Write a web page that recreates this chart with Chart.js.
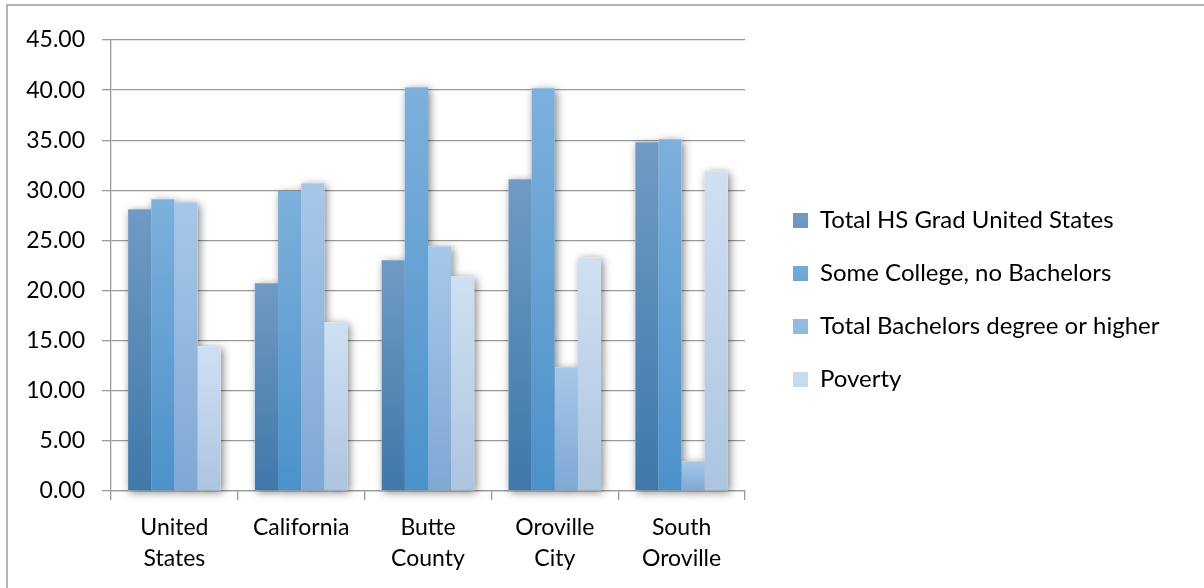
<!DOCTYPE html>
<html>
<head>
<meta charset="utf-8">
<script src="https://cdn.jsdelivr.net/npm/chart.js@4/dist/chart.umd.min.js"></script>
<style>
  html, body { margin: 0; padding: 0; background: #fff; overflow: hidden; }
  #wrap { position: relative; width: 1204px; height: 588px; }
  #frame { position: absolute; left: 6px; top: 4px; width: 1300px; height: 700px; border: 2px solid #b3b3b3; box-sizing: border-box; }
  canvas { position: absolute; left: 0; top: 0; }
</style>
</head>
<body>
<div id="wrap">
  <div id="frame"></div>
  <canvas id="myChart" width="1204" height="588"></canvas>
</div>
<script>
const places = [['United', 'States'], 'California', ['Butte', 'County'], ['Oroville', 'City'], ['South', 'Oroville']];
const seriesNames = ['Total HS Grad United States', 'Some College, no Bachelors', 'Total Bachelors degree or higher', 'Poverty'];
const hsGrad = [28.11, 20.73, 23.02, 31.10, 34.80];
const someCollege = [29.11, 29.94, 40.29, 40.19, 35.10];
const bachelors = [28.81, 30.71, 24.42, 12.35, 2.96];
const poverty = [14.44, 16.84, 21.43, 23.32, 31.90];
const yTicks = [0, 5, 10, 15, 20, 25, 30, 35, 40, 45];

const FONT = 'Lato, "Open Sans", sans-serif';

// each bar gets its own top-to-bottom gradient
function barFill(top, bottom, solid) {
  return function (c) {
    const chart = c.chart;
    if (c.type !== 'data' || !chart.chartArea || !c.parsed) return solid;
    const y = chart.scales.y;
    const yTop = y.getPixelForValue(c.parsed.y);
    const yBase = y.getPixelForValue(0);
    const g = chart.ctx.createLinearGradient(0, yTop, 0, yBase);
    g.addColorStop(0, top);
    g.addColorStop(1, bottom);
    return g;
  };
}

// soft drop shadow under all bars, drawn before the bars themselves
const barShadow = {
  id: 'barShadow',
  beforeDatasetsDraw(chart) {
    const ctx = chart.ctx;
    ctx.save();
    ctx.shadowColor = 'rgba(0,0,0,0.5)';
    ctx.shadowBlur = 8;
    ctx.shadowOffsetX = 2;
    ctx.shadowOffsetY = 2;
    ctx.fillStyle = '#ffffff';
    chart.data.datasets.forEach((ds, i) => {
      chart.getDatasetMeta(i).data.forEach(bar => {
        const p = bar.getProps(['x', 'y', 'base', 'width'], true);
        ctx.fillRect(p.x - p.width / 2, p.y, p.width, p.base - p.y);
      });
    });
    ctx.restore();
  }
};

// widen the legend box and nudge its items right/up
const legendPlace = {
  id: 'legendPlace',
  beforeInit(chart) {
    const fit = chart.legend.fit;
    chart.legend.fit = function () {
      fit.bind(chart.legend)();
      this.width = 459;
    };
  },
  afterLayout(chart) {
    chart.legend.left += 19;
    chart.legend.top -= 14;
    chart.legend.bottom -= 14;
  }
};

const ctx = document.getElementById('myChart');

new Chart(ctx, {
  type: 'bar',
  data: {
    labels: places,
    datasets: [
      { label: seriesNames[0], data: hsGrad, backgroundColor: barFill('#6f9bc3', '#3f78aa', '#4f85b5') },
      { label: seriesNames[1], data: someCollege, backgroundColor: barFill('#7db0dc', '#4a91ca', '#5a9bd0') },
      { label: seriesNames[2], data: bachelors, backgroundColor: barFill('#a7c7e9', '#7ea8d5', '#92b8e0') },
      { label: seriesNames[3], data: poverty, backgroundColor: barFill('#d0e0f2', '#adc4df', '#c0d4eb') }
    ]
  },
  options: {
    responsive: false,
    animation: false,
    layout: { padding: { top: 40, left: 0, right: 0, bottom: 0 } },
    datasets: {
      bar: { barPercentage: 1, categoryPercentage: 0.73, borderWidth: 0 }
    },
    plugins: {
      tooltip: { enabled: false },
      legend: {
        position: 'right',
        align: 'center',
        labels: {
          color: '#000',
          font: { family: FONT, size: 24 },
          boxWidth: 15,
          boxHeight: 15,
          padding: 29
        }
      }
    },
    scales: {
      x: {
        afterFit: s => { s.height = 97; },
        grid: { offset: true, drawOnChartArea: false, color: '#999', lineWidth: 1.3, tickLength: 9 },
        border: { color: '#999', width: 1.3 },
        ticks: { color: '#000', font: { family: FONT, size: 23, lineHeight: 1.35 }, padding: 12, maxRotation: 0, autoSkip: false }
      },
      y: {
        min: 0,
        max: 45,
        afterFit: s => { s.width = 111; },
        afterBuildTicks: s => { s.ticks = yTicks.map(v => ({ value: v })); },
        grid: { color: '#999', lineWidth: 1.3, tickLength: 9 },
        border: { color: '#999', width: 1.3 },
        ticks: {
          color: '#000',
          font: { family: FONT, size: 23 },
          padding: 17,
          callback: v => v.toFixed(2)
        }
      }
    }
  },
  plugins: [barShadow, legendPlace]
});
</script>
</body>
</html>
